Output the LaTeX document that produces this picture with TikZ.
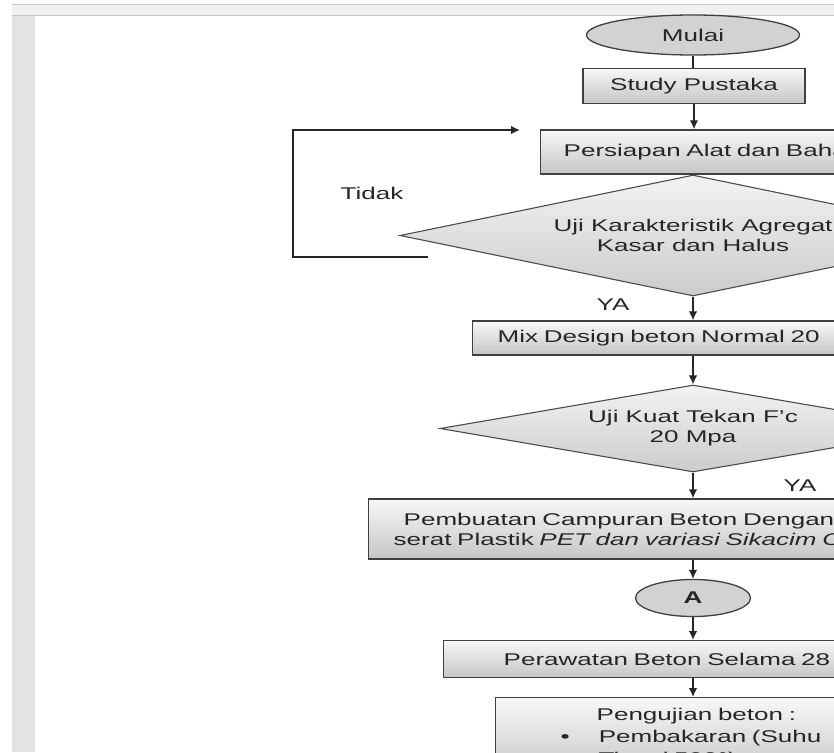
\documentclass[tikz,border=0pt]{standalone}
\usepackage{fontspec}
\usetikzlibrary{arrows.meta,shapes.geometric}
\newfontfamily\flowfont{Liberation Sans}[FakeStretch=1.53]

\begin{document}
\begin{tikzpicture}[x=1pt,y=-1pt,>={Latex[length=9pt,width=8.5pt]},
   font=\flowfont\fontsize{17}{20}\selectfont,
   line/.style={black!85,line width=1.4pt},
   proc/.style={rectangle,draw=black!75,line width=1.4pt,top color=gray!6,bottom color=gray!45,
                text=black!85,inner ysep=0pt},
   cut/.style={proc,anchor=west,align=left,text width=600},
   dec/.style={diamond,draw=black!70,line width=1.1pt,top color=gray!10,bottom color=gray!40,
               text=black!85,inner sep=0pt,align=center},
   term/.style={ellipse,draw=black!75,line width=1.3pt,fill=gray!35,text=black!85,inner sep=0pt},
   lbl/.style={text=black!85,inner sep=0pt}]
  \useasboundingbox (0,0) rectangle (834,752);
  \clip (0,0) rectangle (834,752);
  % page frame
  \fill[white] (0,0) rectangle (834,752);
  \fill[gray!12] (12,4) rectangle (834,16);
  \draw[gray!45,line width=1.5pt] (12,4.5) -- (834,4.5);
  \draw[gray!45,line width=1.5pt] (12,15.5) -- (834,15.5);
  \fill[gray!22] (12,16.5) rectangle (35,752);
  % flow steps
  \node[term,minimum width=213,minimum height=40] (mulai) at (693,35){Mulai};
  \node[proc,minimum width=222,minimum height=35] (study) at (694,86){Study Pustaka};
  \node[cut,minimum height=44,inner xsep=23] (alat) at (540,152){Persiapan Alat dan Bahan};
  \node[dec,aspect=4.84,minimum width=586,minimum height=121] (agregat) at (693,235.5)
     {Uji Karakteristik Agregat\\Kasar dan Halus};
  \node[cut,minimum height=34,inner xsep=25] (mix) at (472,338){Mix Design beton Normal 20};
  \node[dec,aspect=5.8,minimum width=506,minimum height=87] (kuat) at (693,428.5){Uji Kuat Tekan F’c\\20 Mpa};
  \node[cut,minimum height=60,inner xsep=25] (campuran) at (368,529)
     {\hspace*{10pt}Pembuatan Campuran Beton Dengan\\serat Plastik \textit{PET dan variasi Sikacim C}};
  \node[term,minimum width=115,minimum height=37] (a) at (693,598){\bfseries A};
  \node[cut,anchor=north west,inner xsep=60,inner ysep=0pt,minimum height=37] (rawat) at (443,640){Perawatan Beton Selama 28};
  \node[cut,anchor=north west,inner xsep=65,inner ysep=10,font=\flowfont\fontsize{17}{22}\selectfont] (pengujian) at (495,697)
     {\hspace*{36pt}Pengujian beton :\\•\hspace*{29pt}Pembakaran (Suhu\\[0.5pt]\hspace*{38pt}Tinggi 500°)};
  % labels
  \node[lbl] (tidak) at (372,193){Tidak};
  \node[lbl] (ya1) at (613,305){YA};
  \node[lbl] (ya2) at (800,486){YA};
  % connectors
  \draw[line] (mulai.south) -- (mulai.south |- study.north);
  \draw[line,->] (study.south) -- (study.south |- alat.north);
  \draw[line,->] (agregat.south) -- (agregat.south |- mix.north);
  \draw[line,->] (kuat.north |- mix.south) -- (kuat.north);
  \draw[line,->] (kuat.south) -- (kuat.south |- campuran.north);
  \draw[line,->] (a.north |- campuran.south) -- (a.north);
  \draw[line,->] (a.south) -- (a.south |- rawat.north);
  \draw[line,->] (a.south |- rawat.south) -- (a.south |- pengujian.north);
  % back loop (Tidak)
  \coordinate (tidakS) at (428,257);
  \coordinate (tidakC) at (293,130);
  \coordinate (tidakE) at (520,130);
  \draw[line,->] (tidakS) -| (tidakC) -- (tidakE);
\end{tikzpicture}
\end{document}
